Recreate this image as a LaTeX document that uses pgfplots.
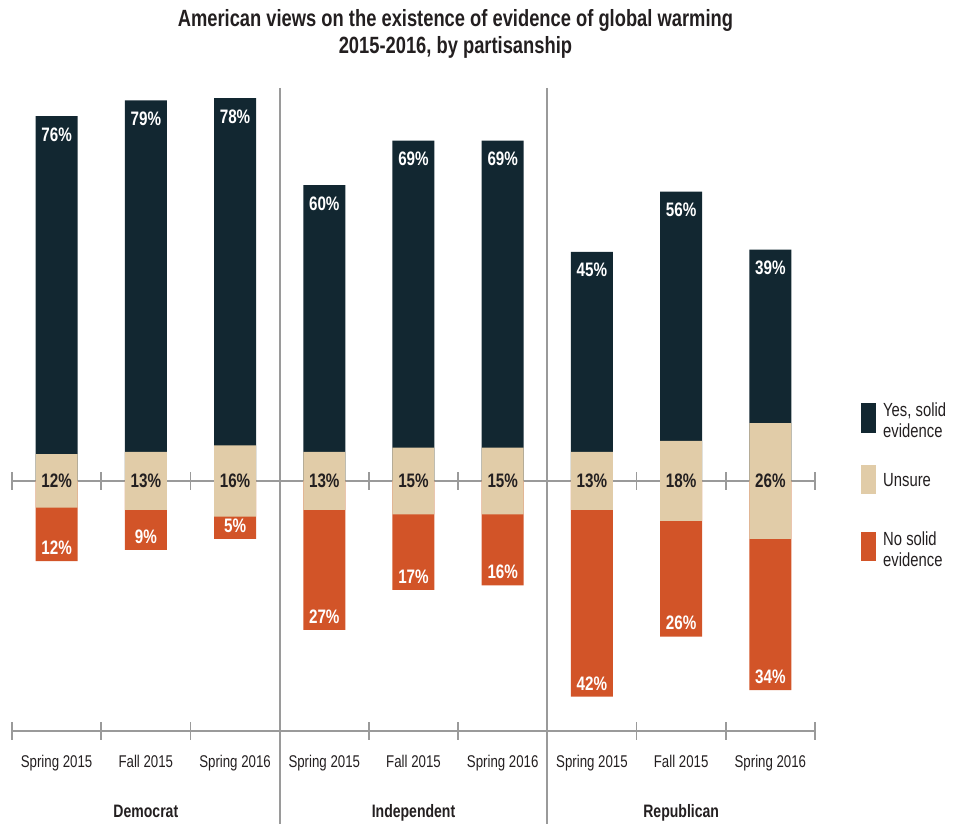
\documentclass[border=0pt]{standalone}
\usepackage{pgfplots}
\usepackage{pgfplotstable}
\pgfplotsset{compat=1.18}
\usepackage{fontspec}
\setmainfont{Liberation Sans}[FakeStretch=0.78]
\definecolor{cdark}{HTML}{122731}
\definecolor{cbeige}{HTML}{E1CCA8}
\definecolor{corange}{HTML}{D25428}
\definecolor{cgray}{HTML}{9A9A9A}
\definecolor{ctext}{HTML}{231F20}

\pgfplotstableread{
cat yes u no
0.5 76 12 12
1.5 79 13 9
2.5 78 16 5
3.5 60 13 27
4.5 69 15 17
5.5 69 15 16
6.5 45 13 42
7.5 56 18 26
8.5 39 26 34
}\data

\begin{document}
\begin{tikzpicture}
\path[use as bounding box] (-12pt,-93pt) rectangle (944pt,731pt);
\begin{axis}[
  scale only axis, width=803pt, height=643pt,
  xmin=0, xmax=9, ymin=-56.2, ymax=88.3,
  axis line style={draw=none},
  ytick=\empty,
  xtick={0.5,1.5,2.5,3.5,4.5,5.5,6.5,7.5,8.5},
  xticklabels={Spring 2015,Fall 2015,Spring 2016,Spring 2015,Fall 2015,Spring 2016,Spring 2015,Fall 2015,Spring 2016},
  xtick style={draw=none},
  xticklabel style={font=\fontsize{17}{17}\selectfont, text=ctext, anchor=base, yshift=-37pt},
  clip=false,
  /pgf/number format/assume math mode=true,
]
% axis lines
\draw[cgray, line width=2pt] (axis cs:3,88.3) -- ++(0pt,-736pt);
\draw[cgray, line width=2pt] (axis cs:6,88.3) -- ++(0pt,-736pt);
\draw[cgray, line width=2.5pt] (axis cs:0,0) -- (axis cs:9,0);
\draw[cgray, line width=2.5pt] (axis cs:0,-56.2) -- (axis cs:9,-56.2);
\pgfplotsinvokeforeach{0,1,2,3,4,5,6,7,8,9}{
  \draw[cgray, line width=1.5pt] (axis cs:#1,0) ++(0pt,-9pt) -- ++(0pt,18pt);
  \draw[cgray, line width=1.5pt] (axis cs:#1,-56.2) ++(0pt,-9pt) -- ++(0pt,18pt);
}
% Yes bars
\addplot[ybar, bar width=42pt, bar shift=0pt, fill=cdark, draw=none,
  point meta=explicit,
  nodes near coords={\pgfmathprintnumber{\pgfplotspointmeta}\%},
  nodes near coords align={below},
  every node near coord/.append style={font=\bfseries\fontsize{19.5}{19.5}\selectfont, text=white, yshift=-8pt}]
  table[x=cat, y expr=\thisrow{yes}+\thisrow{u}/2, meta=yes]{\data};
% No bars
\addplot[ybar, bar width=42pt, bar shift=0pt, fill=corange, draw=none,
  point meta=explicit,
  nodes near coords={\pgfmathprintnumber{\pgfplotspointmeta}\%},
  nodes near coords align={above},
  every node near coord/.append style={font=\bfseries\fontsize{19.5}{19.5}\selectfont, text=white, yshift=3pt}]
  table[x=cat, y expr=-\thisrow{no}-\thisrow{u}/2, meta=no]{\data};
% Unsure halves
\addplot[ybar, bar width=42pt, bar shift=0pt, fill=cbeige, draw=none]
  table[x=cat, y expr=\thisrow{u}/2]{\data};
\addplot[ybar, bar width=42pt, bar shift=0pt, fill=cbeige, draw=none]
  table[x=cat, y expr=-\thisrow{u}/2]{\data};
% Unsure labels
\addplot[draw=none, mark=none, point meta=explicit,
  nodes near coords={\pgfmathprintnumber{\pgfplotspointmeta}\%},
  nodes near coords align={anchor=center},
  every node near coord/.append style={font=\bfseries\fontsize{19.5}{19.5}\selectfont, text=ctext}]
  table[x=cat, y expr=0, meta=u]{\data};
% group labels
\node[font=\bfseries\fontsize{18}{18}\selectfont, text=ctext, anchor=base] at (axis cs:1.5,-56.2) [yshift=-87pt] {Democrat};
\node[font=\bfseries\fontsize{18}{18}\selectfont, text=ctext, anchor=base] at (axis cs:4.5,-56.2) [yshift=-87pt] {Independent};
\node[font=\bfseries\fontsize{18}{18}\selectfont, text=ctext, anchor=base] at (axis cs:7.5,-56.2) [yshift=-87pt] {Republican};
% title
\node[font=\bfseries\fontsize{23.5}{27}\selectfont, text=ctext, align=center] at (axis cs:4.97,88.3) [yshift=54pt]
  {American views on the existence of evidence of global warming\\2015-2016, by partisanship};
\end{axis}
% legend
\fill[cdark] (849pt,298pt) rectangle (864pt,328pt);
\fill[cbeige] (849pt,237pt) rectangle (864pt,266pt);
\fill[corange] (849pt,170pt) rectangle (864pt,199pt);
\node[anchor=west, align=left, font=\fontsize{19}{21}\selectfont, text=ctext, inner sep=0pt] at (871pt,311pt) {Yes, solid\\evidence};
\node[anchor=west, align=left, font=\fontsize{19}{21}\selectfont, text=ctext, inner sep=0pt] at (871pt,251pt) {Unsure};
\node[anchor=west, align=left, font=\fontsize{19}{21}\selectfont, text=ctext, inner sep=0pt] at (871pt,182pt) {No solid\\evidence};
\end{tikzpicture}
\end{document}
